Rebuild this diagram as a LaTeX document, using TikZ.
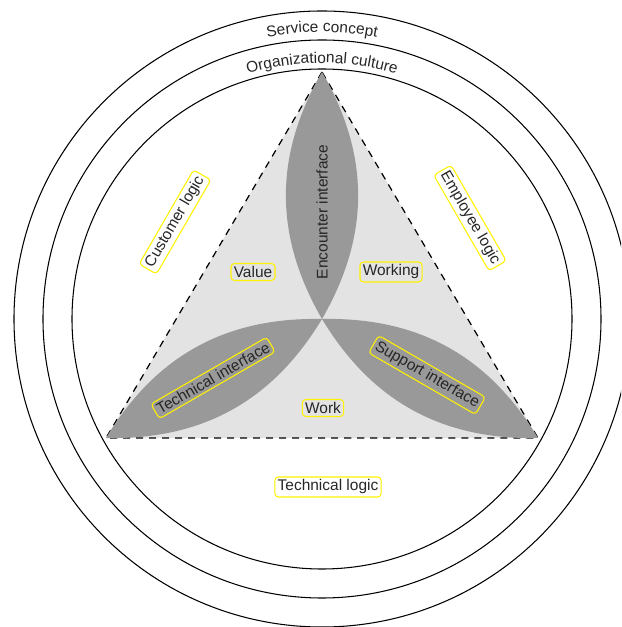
\documentclass[tikz,border=0pt]{standalone}
\usepackage{fontspec}
\setmainfont{Liberation Sans}
\usetikzlibrary{decorations.text}
\def\lbl{\fontsize{8.8}{10}\selectfont}
\def\arctext#1#2{\path[decorate,decoration={text along path,text align=center,
   text={|\lbl\color{black!85}|#2}}] (0,0) ++(120:#1) arc[start angle=120,end angle=60,radius=#1];}

\begin{document}
\begin{tikzpicture}[
   lens/.style={fill=black!40},
   tag/.style={draw=yellow,line width=0.6pt,rounded corners=2pt,inner sep=1.6pt,font=\lbl,text=black!85},
   plain/.style={inner sep=1pt,font=\lbl,text=black!85}]
% cornice
   \useasboundingbox (-6.44,-6.16) rectangle (5.98,6.38);
   \clip (-6.44,-6.16) rectangle (5.98,6.38);
% cerchi
   \draw[line width=0.6pt] (0,0) circle (6.16); \draw[line width=0.6pt]
   (0,0) circle (5.58); \draw[line width=0.6pt] (0,0) circle (5.0);
   \arctext{5.74}{Service concept}
   \arctext{5.12}{Organizational culture}
% triangolo
   \coordinate (top) at (0,4.94); \coordinate (bl) at (-4.32,-2.38);
   \coordinate (br) at (4.32,-2.38); \coordinate (hub) at (0,0);
   \fill[black!11] (top) -- (bl) -- (br) -- cycle;
   \draw[line width=0.7pt,dash pattern=on 4pt off 3.4pt] (top) -- (bl)
   -- (br) -- cycle;
% interfacce
   \fill[lens] (top) to[bend left=30] (hub) to[bend left=30] (top);
   \fill[lens] (bl) to[bend left=30] (hub) to[bend left=30] (bl);
   \fill[lens] (br) to[bend left=30] (hub) to[bend left=30] (br);
   \node[plain,rotate=90] (encounter) at (0,2.14) {Encounter interface};
   \node[tag,rotate=30] (technical) at (-2.18,-1.18) {Technical interface};
   \node[tag,rotate=-30] (support) at (2.1,-1.12) {Support interface};
% logiche
   \node[tag,rotate=60] (customer) at (-2.94,1.94) {Customer logic};
   \node[tag,rotate=-60] (employee) at (2.96,2.02) {Employee logic};
   \node[tag] (techlogic) at (0.12,-3.36) {Technical logic};
% valori
   \node[tag] (value) at (-1.38,0.94) {Value};
   \node[tag] (working) at (1.38,0.94) {Working};
   \node[tag] (work) at (0.02,-1.78) {Work};
\end{tikzpicture}
\end{document}
